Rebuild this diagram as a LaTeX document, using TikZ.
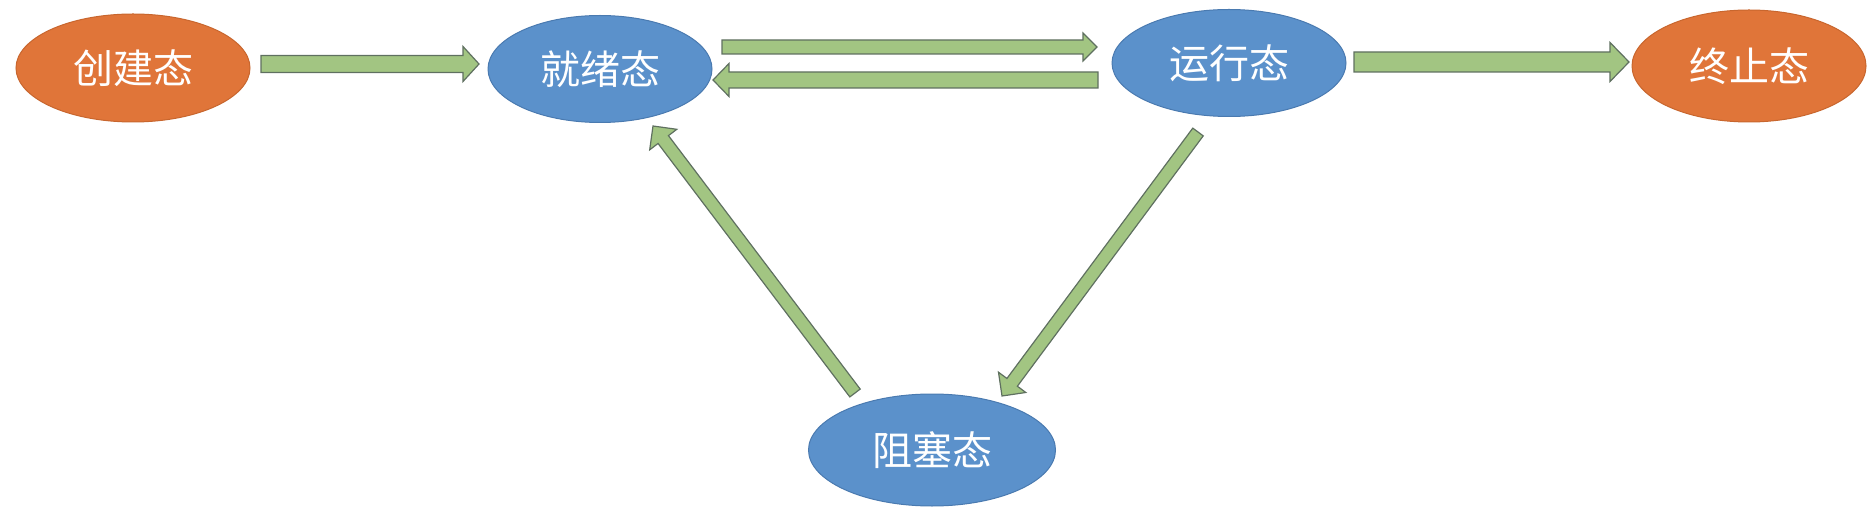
\documentclass[tikz,border=0pt]{standalone}
\usepackage{fontspec}
\newfontfamily\cjk{Noto Sans CJK SC}
\usetikzlibrary{shapes.geometric,calc}
\definecolor{orangefill}{HTML}{E07539}
\definecolor{orangeline}{HTML}{C8662E}
\definecolor{bluefill}{HTML}{5B91CB}
\definecolor{blueline}{HTML}{4A7AB0}
\definecolor{greenfill}{HTML}{A2C582}
\definecolor{greenline}{HTML}{5F7060}
\tikzset{
  state/.style={ellipse, inner sep=0pt, line width=1pt, text=white,
    font=\cjk\fontsize{40}{48}\selectfont},
  endstate/.style={state, fill=orangefill, draw=orangeline},
  midstate/.style={state, fill=bluefill, draw=blueline},
  blockarrowstyle/.style={fill=greenfill, draw=greenline, line width=1.2pt, line join=miter}
}
% #1 start, #2 end, #3 shaft half width, #4 head half width, #5 head length
\newcommand{\blockarrow}[5]{%
  \coordinate (tmpH) at ($(#2)!#5!(#1)$);
  \draw[blockarrowstyle]
    ($(#1)!#3!90:(#2)$) -- ($(tmpH)!#3!-90:(#1)$) -- ($(tmpH)!#4!-90:(#1)$)
    -- (#2) -- ($(tmpH)!#4!90:(#1)$) -- ($(tmpH)!#3!90:(#1)$)
    -- ($(#1)!#3!-90:(#2)$) -- cycle;
}
\begin{document}
\begin{tikzpicture}[x=1pt,y=-1pt]
\useasboundingbox (0,0) rectangle (1870,510);
\node[endstate, minimum width=234pt, minimum height=108pt] (create) at (133,68) {创建态};
\node[midstate, minimum width=224pt, minimum height=107pt] (ready) at (600,69) {就绪态};
\node[midstate, minimum width=234pt, minimum height=107pt] (run) at (1229,63) {运行态};
\node[endstate, minimum width=234pt, minimum height=112pt] (term) at (1749,66) {终止态};
\node[midstate, minimum width=247pt, minimum height=112pt] (block) at (932,450) {阻塞态};

\coordinate (a1s) at (261,64);   \coordinate (a1e) at (479,64);
\coordinate (a2s) at (722,47);   \coordinate (a2e) at (1097,47);
\coordinate (a3s) at (1098,80);  \coordinate (a3e) at (713,80);
\coordinate (a4s) at (1354,62);  \coordinate (a4e) at (1629,62);
\coordinate (a5s) at (855,393);  \coordinate (a5e) at (653,126);
\coordinate (a6s) at (1198,132); \coordinate (a6e) at (1002,396);

\blockarrow{a1s}{a1e}{8.5pt}{17.5pt}{16pt}
\blockarrow{a2s}{a2e}{7pt}{14pt}{14pt}
\blockarrow{a3s}{a3e}{8pt}{16.5pt}{16pt}
\blockarrow{a4s}{a4e}{10pt}{19.5pt}{19pt}
\blockarrow{a5s}{a5e}{6.5pt}{17pt}{17pt}
\blockarrow{a6s}{a6e}{6.5pt}{17pt}{17pt}
\end{tikzpicture}
\end{document}
